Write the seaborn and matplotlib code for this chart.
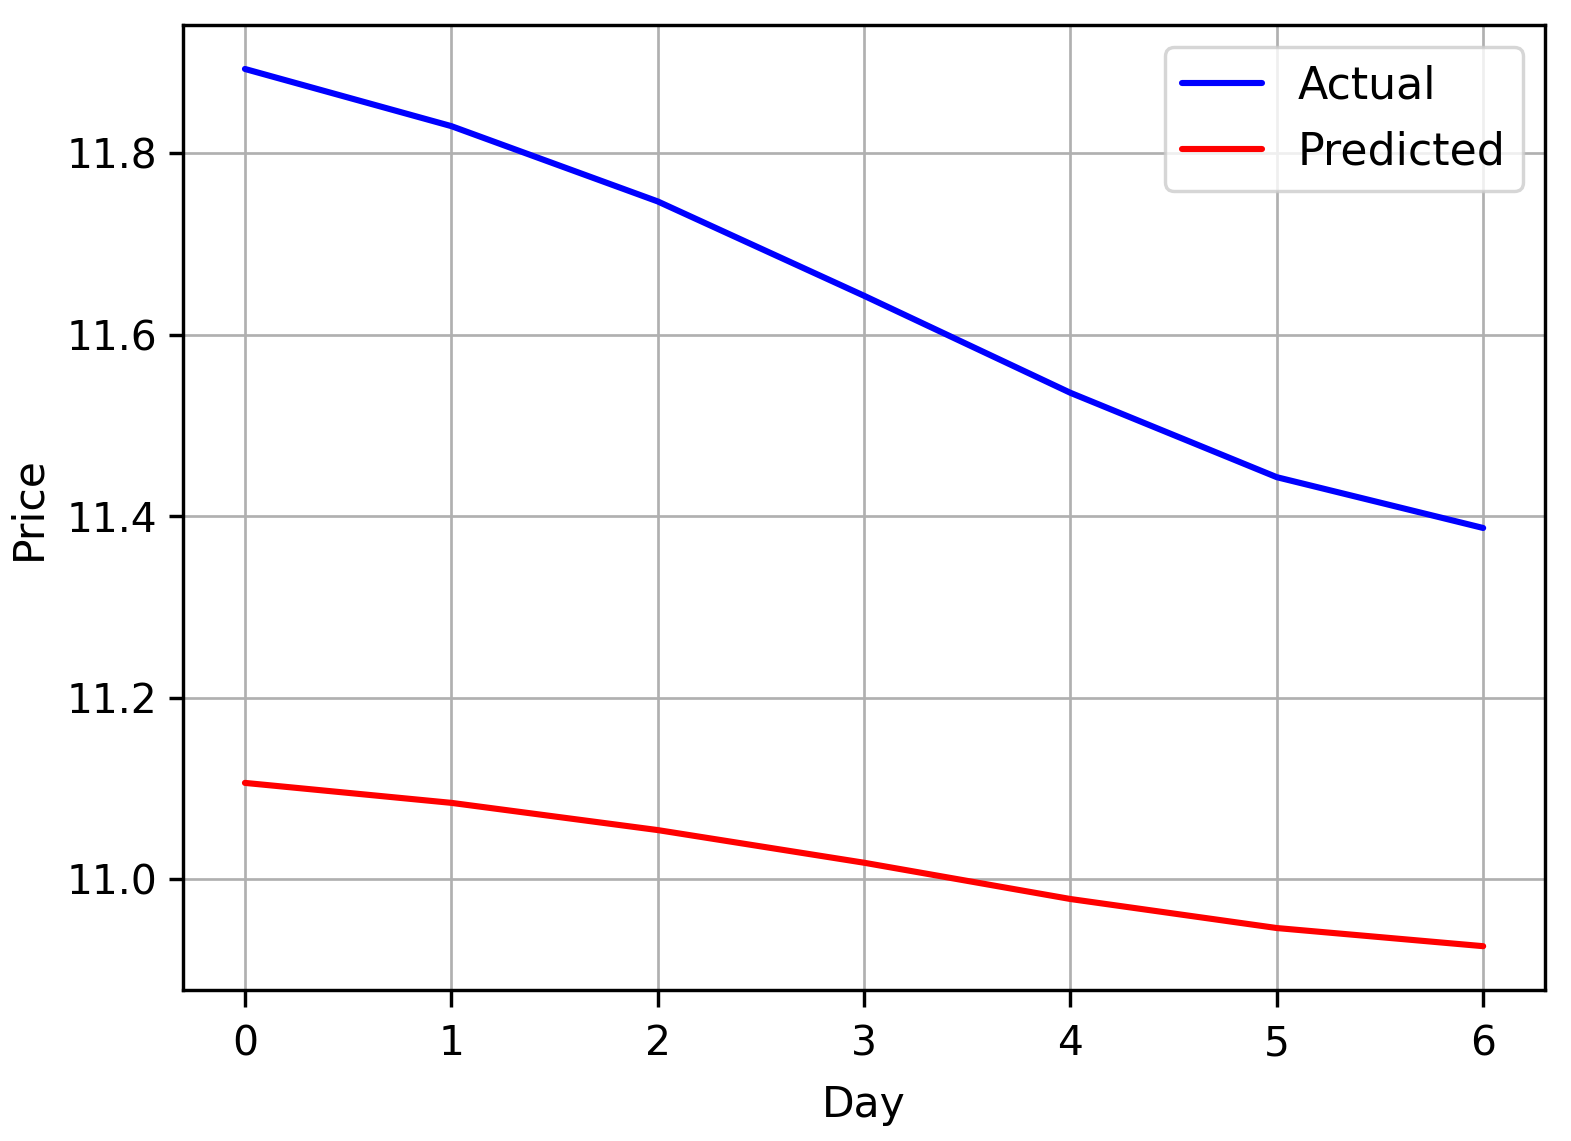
import pandas as pd
import matplotlib
matplotlib.use("Agg")
import matplotlib.pyplot as plt
import seaborn as sns

days = [0, 1, 2, 3, 4, 5, 6]
actual = [11.893, 11.830, 11.747, 11.643, 11.536, 11.443, 11.387]
predicted = [11.106, 11.084, 11.054, 11.018, 10.978, 10.946, 10.926]

df = pd.DataFrame({
    "Day": days * 2,
    "Price": actual + predicted,
    "Serie": ["Actual"] * len(days) + ["Predicted"] * len(days),
})

sns.set_style("ticks")
plt.rcParams["font.family"] = ["DejaVu Sans"]
plt.rcParams["text.color"] = "black"
plt.rcParams["axes.labelcolor"] = "black"
plt.rcParams["xtick.color"] = "black"
plt.rcParams["ytick.color"] = "black"

fig = plt.figure(figsize=(1571 / 245, 1141 / 245), dpi=245)
ax = fig.add_axes([0.1165, 0.1323, 0.867, 0.8457])

sns.lineplot(data=df, x="Day", y="Price", hue="Serie",
             palette={"Actual": "blue", "Predicted": "red"}, linewidth=1.8, ax=ax)

ax.grid(True, color="#b0b0b0", linewidth=0.8)
ax.tick_params(labelsize=12, width=1, length=4)
ax.tick_params(axis="x", length=5, pad=5)
for s in ax.spines.values():
    s.set_color("black")
    s.set_linewidth(1)
ax.set_xlabel("Day", fontsize=12.5, labelpad=6)
ax.set_ylabel("Price", fontsize=12.5, labelpad=5)
ax.legend(title=None, loc="upper right", fontsize=13, handlelength=1.8)

fig.savefig("out.png", dpi=245)
